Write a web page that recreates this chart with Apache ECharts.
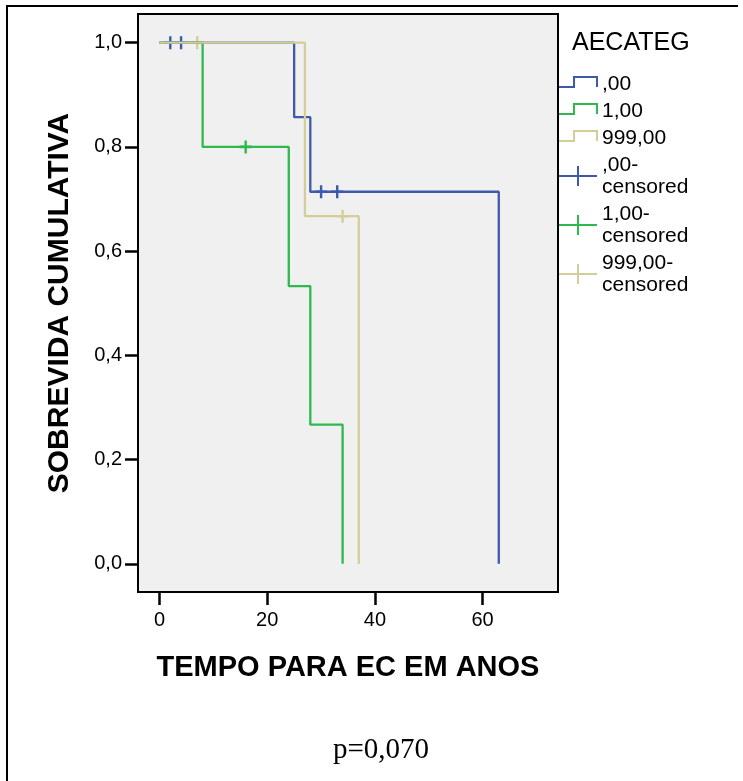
<!DOCTYPE html>
<html>
<head>
<meta charset="utf-8">
<script src="https://cdn.jsdelivr.net/npm/echarts@6/dist/echarts.min.js"></script>
<style>
  html, body { margin: 0; padding: 0; background: #fff; }
  #chart { width: 743px; height: 781px; }
</style>
</head>
<body>
<div id="chart"></div>
<script>
// grupos AECATEG
var groupNames = [',00', '1,00', '999,00'];
// curvas de sobrevida (tempo, sobrevida)
var survBlue = [[0, 1], [25, 0.857], [28, 0.714], [63, 0]];
var survGreen = [[0, 1], [8, 0.8], [24, 0.533], [28, 0.267], [34, 0]];
var survBeige = [[0, 1], [27, 0.667], [37, 0]];
// censurados
var censBlue = [[2, 1], [4, 1], [30, 0.714], [33, 0.714]];
var censGreen = [[16, 0.8]];
var censBeige = [[7, 1], [34, 0.667]];
// eixos
var xTicks = [0, 20, 40, 60];
var yTicks = [0, 0.2, 0.4, 0.6, 0.8, 1.0];
var pText = 'p=0,070';

var colors = ['#3e58ac', '#2eb84e', '#d3ce97'];
var font = "'Liberation Sans', Arial, sans-serif";
var stepIcon = 'path://M0,0M38,20M0,13L15,13L15,3L38,3L38,13';
var crossIcon = 'path://M0,10L38,10M19,0L19,20';
var crossMark = 'path://M0,6.5L12,6.5M6,0L6,13';

var surv = [survBlue, survGreen, survBeige];
var cens = [censBlue, censGreen, censBeige];

var series = [];
// ordem de desenho: verde, azul, bege
[1, 0, 2].forEach(function(i) {
    series.push({
        name: groupNames[i],
        type: 'line',
        step: 'end',
        showSymbol: false,
        symbol: 'none',
        lineStyle: { color: colors[i], width: 2.3 },
        itemStyle: { color: colors[i] },
        data: surv[i]
    });
});
[1, 0, 2].forEach(function(i) {
    series.push({
        name: groupNames[i] + '-censored',
        type: 'scatter',
        symbol: crossMark,
        symbolSize: [12, 13],
        symbolKeepAspect: false,
        itemStyle: { color: 'rgba(0,0,0,0)', borderColor: colors[i], borderWidth: 2.5, opacity: 1 },
        data: cens[i]
    });
});

var legendData = [];
groupNames.forEach(function(g, i) {
    legendData.push({
        name: g, icon: stepIcon,
        itemStyle: { color: 'rgba(0,0,0,0)', borderColor: colors[i], borderWidth: 2 }
    });
});
groupNames.forEach(function(g, i) {
    legendData.push({
        name: g + '-censored', icon: crossIcon,
        itemStyle: { color: 'rgba(0,0,0,0)', borderColor: colors[i], borderWidth: 2 }
    });
});

var chart = echarts.init(document.getElementById('chart'));
var option = {
    animation: false,
    backgroundColor: '#fff',
    title: {
        text: 'AECATEG',
        left: 572,
        top: 31,
        padding: 0,
        textStyle: { fontFamily: font, fontSize: 25, fontWeight: 'normal', color: '#000' }
    },
    legend: {
        orient: 'vertical',
        left: 558,
        top: 73,
        padding: 0,
        itemGap: 5,
        itemWidth: 38,
        itemHeight: 20,
        symbolKeepAspect: false,
        selectedMode: false,
        data: legendData,
        formatter: function(name) { return name.replace('-', '-\n'); },
        textStyle: { fontFamily: font, fontSize: 21, lineHeight: 22, color: '#000' }
    },
    grid: {
        left: 138,
        right: 185,
        top: 14,
        bottom: 189,
        show: true,
        backgroundColor: '#f0f0f0',
        borderColor: '#000',
        borderWidth: 2,
        containLabel: false,
        outerBoundsMode: 'none'
    },
    xAxis: {
        type: 'value',
        min: -4,
        max: 74,
        name: 'TEMPO PARA EC EM ANOS',
        nameLocation: 'middle',
        nameGap: 61,
        nameTextStyle: { fontFamily: font, fontSize: 29, fontWeight: 'bold', color: '#000' },
        axisLine: { show: true, onZero: false, lineStyle: { color: '#000', width: 2 } },
        axisTick: { show: true, length: 13, customValues: xTicks, lineStyle: { color: '#000', width: 2.5 } },
        axisLabel: {
            customValues: xTicks,
            margin: 18,
            fontFamily: font, fontSize: 20, color: '#000'
        },
        splitLine: { show: false }
    },
    yAxis: {
        type: 'value',
        min: -0.054,
        max: 1.055,
        name: 'SOBREVIDA CUMULATIVA',
        nameLocation: 'middle',
        nameGap: 63,
        nameTextStyle: { fontFamily: font, fontSize: 30, fontWeight: 'bold', color: '#000' },
        axisLine: { show: true, onZero: false, lineStyle: { color: '#000', width: 2 } },
        axisTick: { show: true, length: 13, customValues: yTicks, lineStyle: { color: '#000', width: 2.5 } },
        axisLabel: {
            customValues: yTicks,
            margin: 16,
            fontFamily: font, fontSize: 20, color: '#000',
            formatter: function(v) { return v.toFixed(1).replace('.', ','); }
        },
        splitLine: { show: false }
    },
    graphic: [
        {
            type: 'polyline',
            shape: { points: [[7, 781], [7, 6], [738, 6]] },
            style: { stroke: '#000', lineWidth: 2, fill: null }
        },
        {
            type: 'text',
            x: 381,
            y: 750,
            style: {
                text: pText,
                fontFamily: "'Liberation Serif', 'Times New Roman', serif",
                fontSize: 29,
                fill: '#000',
                textAlign: 'center',
                textVerticalAlign: 'middle'
            }
        }
    ],
    series: series
};
chart.setOption(option);
window.onresize = chart.resize;
</script>
</body>
</html>
